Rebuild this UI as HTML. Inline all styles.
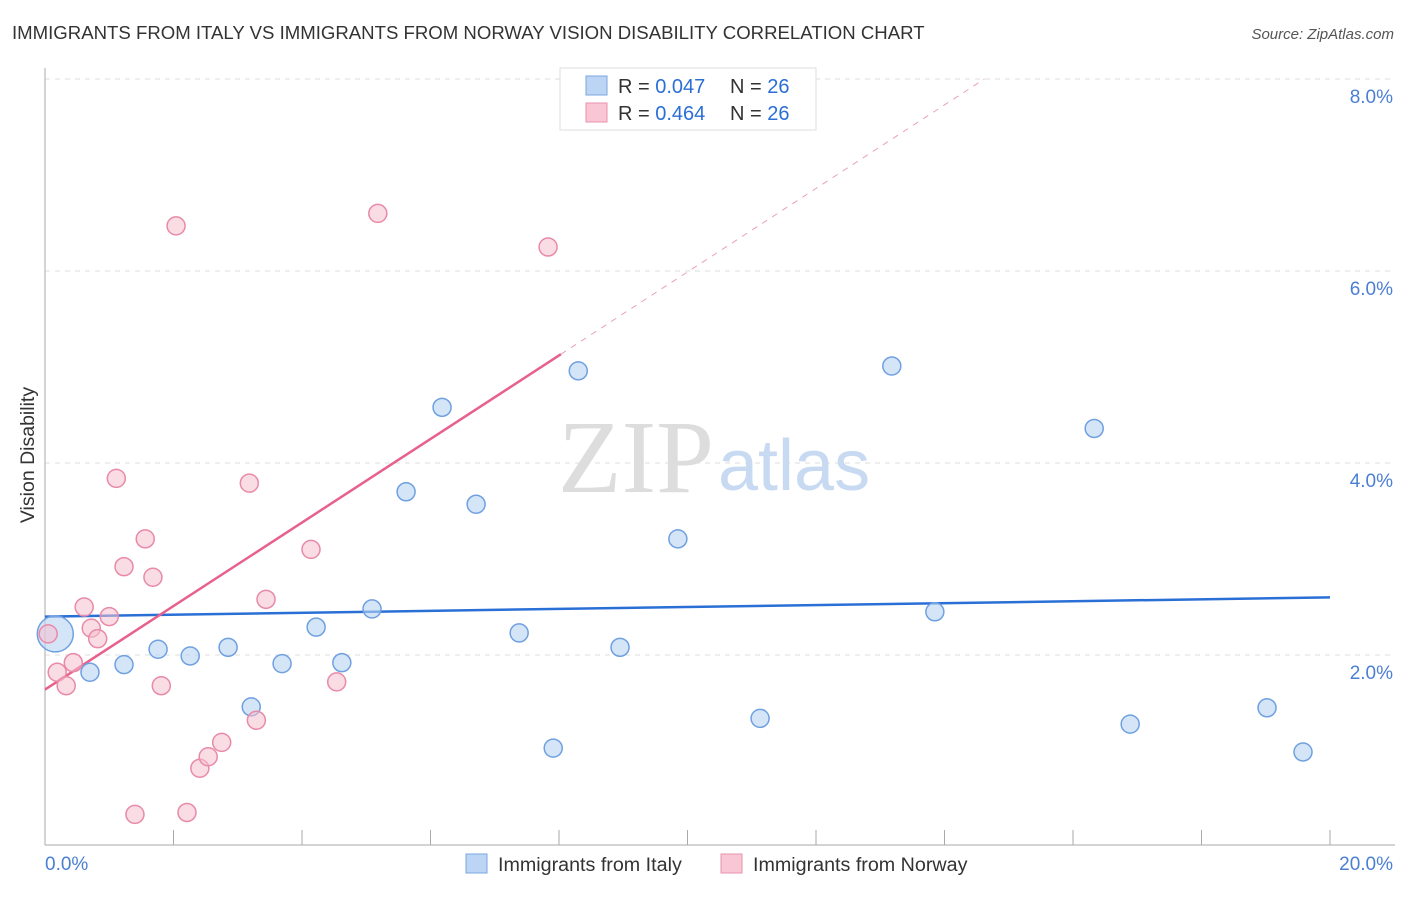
<!DOCTYPE html>
<html><head><meta charset="utf-8"><style>
body{margin:0;background:#fff;font-family:"Liberation Sans",sans-serif}
</style></head><body>
<svg width="1406" height="892" xmlns="http://www.w3.org/2000/svg">
<text x="12" y="39" font-size="18.6" fill="#333">IMMIGRANTS FROM ITALY VS IMMIGRANTS FROM NORWAY VISION DISABILITY CORRELATION CHART</text>
<text x="1394" y="39" font-size="15" fill="#555" font-style="italic" text-anchor="end">Source: ZipAtlas.com</text>
<text x="34" y="455" font-size="19.5" fill="#333" transform="rotate(-90 34 455)" text-anchor="middle">Vision Disability</text>
<g id="grid"></g>
<text x="714" y="492" font-size="104" font-family="Liberation Serif,serif" fill="#ddd" text-anchor="end">ZIP</text>
<text x="718" y="490" font-size="72" fill="#c8daf2">atlas</text>
<g id="lines"></g>
<g id="pts"></g>
<g>
<rect x="560" y="68" width="256" height="62" fill="#fff" stroke="#ddd"/>
<rect x="586" y="76" width="21" height="19" fill="#bcd5f5" stroke="#7aa6e0"/>
<rect x="586" y="103" width="21" height="19" fill="#f8c6d5" stroke="#ea93ae"/>
<text x="618" y="93" font-size="20" fill="#333">R = <tspan fill="#2b6fd6">0.047</tspan></text>
<text x="730" y="93" font-size="20" fill="#333">N = <tspan fill="#2b6fd6">26</tspan></text>
<text x="618" y="120" font-size="20" fill="#333">R = <tspan fill="#2b6fd6">0.464</tspan></text>
<text x="730" y="120" font-size="20" fill="#333">N = <tspan fill="#2b6fd6">26</tspan></text>
</g>
<g>
<rect x="466" y="854" width="21" height="19" fill="#bcd5f5" stroke="#7aa6e0"/>
<text x="498" y="871" font-size="19.7" fill="#333">Immigrants from Italy</text>
<rect x="721" y="854" width="21" height="19" fill="#f8c6d5" stroke="#ea93ae"/>
<text x="753" y="871" font-size="19.7" fill="#333">Immigrants from Norway</text>
</g>
</svg>
<script>
const yTicks=[2,4,6,8];
const xTickLabels=["0.0%","20.0%"];
const italyX=[0.16,0.70,1.23,1.76,2.26,2.85,3.21,3.69,4.22,4.62,5.09,5.62,6.18,6.71,7.38,7.91,8.30,8.95,9.85,11.13,13.18,13.85,16.33,16.89,19.02,19.58];
const italyY=[2.22,1.82,1.90,2.06,1.99,2.08,1.46,1.91,2.29,1.92,2.48,3.70,4.58,3.57,2.23,1.03,4.96,2.08,3.21,1.34,5.01,2.45,4.36,1.28,1.45,0.99];
const norwayX=[0.05,0.19,0.33,0.44,0.61,0.72,0.82,1.00,1.11,1.23,1.56,1.68,1.81,2.04,2.21,2.41,2.54,2.75,3.18,3.29,3.44,4.14,4.54,5.18,7.83,1.40];
const norwayY=[2.22,1.82,1.68,1.92,2.50,2.28,2.17,2.40,3.84,2.92,3.21,2.81,1.68,6.47,0.36,0.82,0.94,1.09,3.79,1.32,2.58,3.10,1.72,6.60,6.25,0.34];
const italyTrend=[2.40,2.60];
const norwayTrend=[1.64,0.435];
const NS="http://www.w3.org/2000/svg";
const X=v=>45+v*64.25, Y=v=>847-v*96;
function mk(t,a,p){const e=document.createElementNS(NS,t);for(const k in a)e.setAttribute(k,a[k]);p.appendChild(e);return e;}
const g=document.getElementById('grid');
yTicks.forEach(t=>{
 const l=mk('line',{x1:45,x2:1395,y1:Y(t),y2:Y(t),stroke:'#ddd','stroke-dasharray':'5,5'},g);
 
 
 const tx=mk('text',{x:1393,y:Y(t)+24,'font-size':19,fill:'#4a7fd4','text-anchor':'end'},g);
 tx.textContent=t.toFixed(1)+'%';
 
 
});
mk('line',{x1:45,x2:45,y1:68,y2:845,stroke:'#aaa'},g);
mk('line',{x1:45,x2:1395,y1:845,y2:845,stroke:'#aaa'},g);
for(let i=0;i<=10;i++){mk('line',{x1:X(i*2),x2:X(i*2),y1:830,y2:845,stroke:'#aaa'},g);}
const xl0=mk('text',{x:45,y:870,'font-size':19,fill:'#4a7fd4'},g);xl0.textContent=xTickLabels[0];


const xl1=mk('text',{x:1393,y:870,'font-size':19,fill:'#4a7fd4','text-anchor':'end'},g);xl1.textContent=xTickLabels[1];


const pg=document.getElementById('pts');
const big=mk('circle',{cx:X(italyX[0]),cy:Y(italyY[0]),r:18,fill:'rgba(185,211,243,0.6)',stroke:'#6fa0e0','stroke-width':1.5},pg);


italyX.forEach((x,i)=>{if(i===0)return;
 const c=mk('circle',{cx:X(x),cy:Y(italyY[i]),r:9,fill:'rgba(185,211,243,0.6)',stroke:'#6fa0e0','stroke-width':1.5},pg);
 
 
});
norwayX.forEach((x,i)=>{
 const c=mk('circle',{cx:X(x),cy:Y(norwayY[i]),r:9,fill:'rgba(246,192,208,0.55)',stroke:'#e88aa8','stroke-width':1.5},pg);
 
 
});
const lg=document.getElementById('lines');
const bl=mk('line',{x1:X(0),y1:Y(italyTrend[0]),x2:X(20),y2:Y(italyTrend[1]),stroke:'#2a6fd6','stroke-width':2.5},lg);


const pf=x=>norwayTrend[0]+norwayTrend[1]*x;
const xEnd=Math.max(...norwayX)+0.2;
const pl=mk('line',{x1:X(0),y1:Y(pf(0)),x2:X(xEnd),y2:Y(pf(xEnd)),stroke:'#e8608c','stroke-width':2.5},lg);


const xTop=(8.0-norwayTrend[0])/norwayTrend[1];
const pd=mk('line',{x1:X(xEnd),y1:Y(pf(xEnd)),x2:X(xTop),y2:Y(pf(xTop)),stroke:'#eaa0b8','stroke-width':1,'stroke-dasharray':'6,6'},lg);


</script>
</body></html>
